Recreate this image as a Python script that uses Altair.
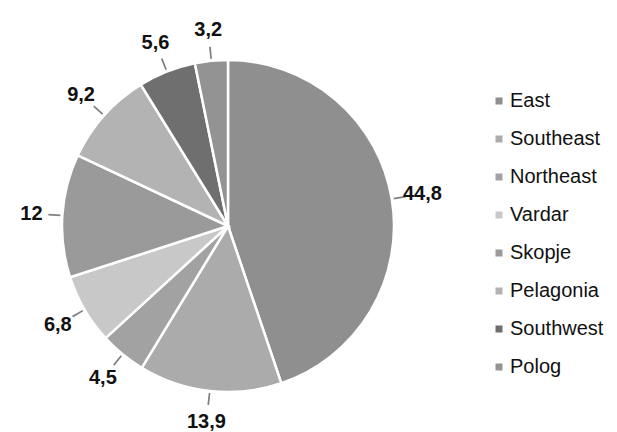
import altair as alt
import pandas as pd

regions = ["East", "Southeast", "Northeast", "Vardar", "Skopje", "Pelagonia", "Southwest", "Polog"]
values = [44.8, 13.9, 4.5, 6.8, 12.0, 9.2, 5.6, 3.2]
labels = ["44,8", "13,9", "4,5", "6,8", "12", "9,2", "5,6", "3,2"]
colors = ["#8f8f8f", "#ababab", "#a2a2a2", "#c8c8c8", "#9a9a9a", "#b3b3b3", "#6f6f6f", "#939393"]

df = pd.DataFrame({"region": regions, "value": values, "label": labels, "idx": list(range(len(regions)))})
cum = df["value"].cumsum()
df["mid"] = cum - df["value"] / 2
df["mid_a"] = df["mid"] - 0.08
df["mid_b"] = df["mid"] + 0.08

tscale = alt.Scale(domain=[0, 100])
base = alt.Chart(df)

pie = base.mark_arc(outerRadius=166, stroke="white", strokeWidth=2.5).encode(
    theta=alt.Theta("value:Q", stack=True, scale=tscale),
    color=alt.Color(
        "region:N",
        scale=alt.Scale(domain=regions, range=colors),
        legend=alt.Legend(
            title=None, orient="none", legendX=489, legendY=71,
            symbolType="square", symbolSize=49, symbolStrokeWidth=0,
            labelFontSize=20, labelFont="Liberation Sans", labelColor="#111111",
            labelOffset=1, rowPadding=18,
        ),
    ),
    order=alt.Order("idx:Q"),
)

leaders = base.mark_arc(innerRadius=168, outerRadius=180, color="#808080").encode(
    theta=alt.Theta("mid_a:Q", stack=None, scale=tscale),
    theta2="mid_b:Q",
)

text = base.mark_text(radius=197, fontSize=20, fontWeight="bold", font="Liberation Sans", color="#111111").encode(
    theta=alt.Theta("mid:Q", stack=None, scale=tscale),
    text="label:N",
)

chart = alt.layer(pie, leaders, text).properties(
    width=456, height=412,
    padding={"left": 0, "top": 20, "right": 161, "bottom": 0},
    autosize="none",
    background="white",
).configure_view(stroke=None)

chart.save("out.html", embed_options={"renderer": "svg", "actions": False})
